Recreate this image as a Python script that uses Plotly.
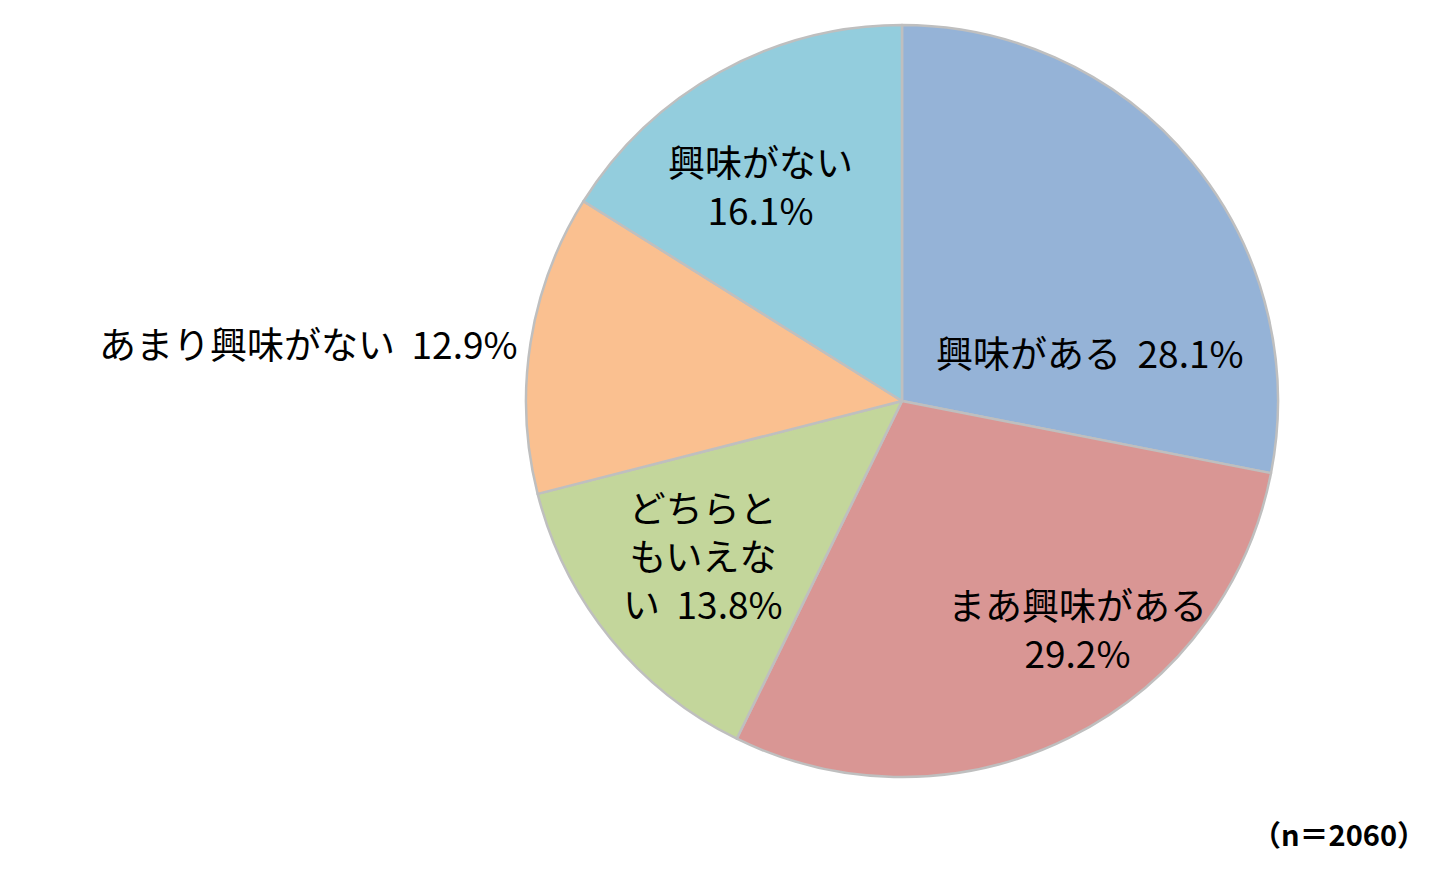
import plotly.graph_objs as go

# data
labels = ['興味がある', 'まあ興味がある', 'どちらともいえない', 'あまり興味がない', '興味がない']
values = [28.1, 29.2, 13.8, 12.9, 16.1]
slice_colors = ['#95B3D7', '#D99694', '#C3D69B', '#FAC090', '#93CDDD']
# how each label is broken into lines in the picture
label_lines = [['興味がある  {v}%'],
               ['まあ興味がある', '{v}%'],
               ['どちらと', 'もいえな', 'い  {v}%'],
               ['あまり興味がない  {v}%'],
               ['興味がない', '{v}%']]
n_total = 2060

W, H = 1452, 880
off = 8  # page margin of the browser shot

fig = go.Figure()
fig.add_trace(go.Pie(labels=labels,
                     values=values,
                     sort=False,
                     direction='clockwise',
                     rotation=0,
                     textinfo='none',
                     hoverinfo='label+percent',
                     marker={'colors': slice_colors, 'line': {'color': '#BFBFBF', 'width': 2.5}},
                     domain={'x': [(526 - off) / W, (1278 - off) / W],
                             'y': [1 - (777 - off) / H, 1 - (25 - off) / H]},
                     showlegend=False))

# label placement (pixel centres in the picture)
label_pos = [(1090, 352, 'center'),
             (1077, 628, 'center'),
             (703, 555, 'center'),
             (520, 343, 'right'),
             (760, 185, 'center')]

for lines, v, (px, py, al) in zip(label_lines, values, label_pos):
    txt = '<br>'.join(l.format(v=v) for l in lines)
    fig.add_annotation(x=(px - off) / W, y=1 - (py - off) / H, xref='paper', yref='paper',
                       text=txt, showarrow=False, align=al,
                       xanchor='right' if al == 'right' else 'center', yanchor='middle',
                       font={'size': 37, 'color': 'black'})

fig.add_annotation(x=(1428 - off) / W, y=1 - (833 - off) / H, xref='paper', yref='paper',
                   text=f'<b>（n＝{n_total}）</b>', showarrow=False,
                   xanchor='right', yanchor='middle',
                   font={'size': 29, 'color': 'black'})

fig.update_layout(width=W, height=H,
                  margin={'l': 0, 'r': 0, 't': 0, 'b': 0},
                  paper_bgcolor='white',
                  plot_bgcolor='white',
                  font={'family': 'Noto Sans CJK JP'})

fig.write_html('out.html')
